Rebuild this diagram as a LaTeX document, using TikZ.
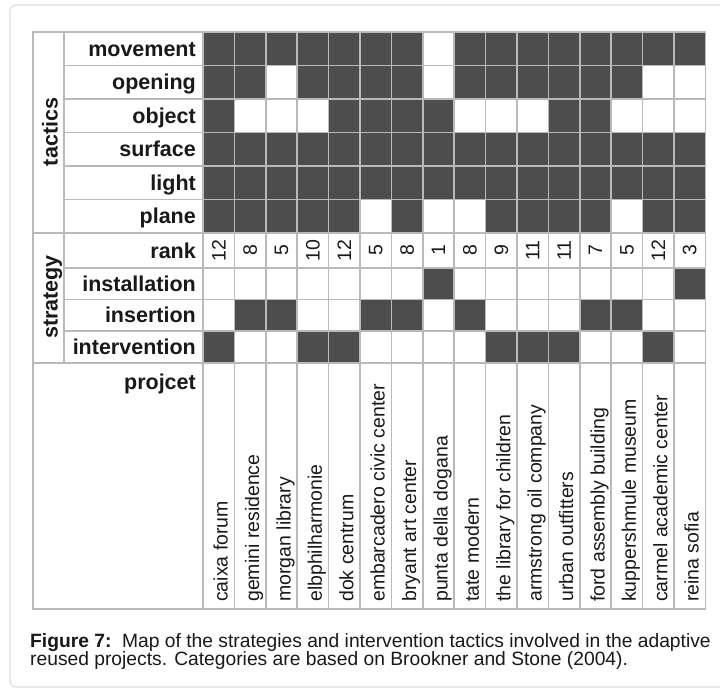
\documentclass[tikz,border=0pt]{standalone}
\usepackage{fontspec}
\setmainfont{Liberation Sans}
\definecolor{cellfill}{RGB}{77,77,77}
\definecolor{gridline}{RGB}{185,185,185}
\definecolor{inkgray}{RGB}{25,25,25}
\definecolor{framegray}{RGB}{222,222,222}
\tikzset{
  rowlabel/.style={anchor=base east, inner sep=0pt, text=inkgray,
    font=\fontsize{21.5}{24}\selectfont\bfseries},
  grouplabel/.style={rotate=90, anchor=base, inner sep=0pt, text=inkgray,
    font=\fontsize{21.5}{24}\selectfont\bfseries},
  ranknum/.style={rotate=90, inner sep=0pt, text=inkgray,
    font=\fontsize{19.5}{22}\selectfont},
  projname/.style={rotate=90, anchor=base west, inner sep=0pt, text=inkgray,
    font=\fontsize{19.5}{22}\selectfont},
  gridrule/.style={draw=gridline, line width=1.6pt},
  caption/.style={anchor=base west, inner sep=0pt, text=inkgray,
    font=\fontsize{19.25}{22}\selectfont},
}
\begin{document}
\begin{tikzpicture}[x=1pt, y=-1pt]
\useasboundingbox (0,0) rectangle (720,689);
\clip (0,0) rectangle (720,689);
\fill[white] (0,0) rectangle (720,689);
\draw[framegray, line width=1.2pt, rounded corners=6pt] (10,5) rectangle (740,687);

% filled cells and row labels
\foreach \ytop/\ybot/\lab/\cells [count=\r] in {
  32/65.5/movement/{1,1,1,1,1,1,1,0,1,1,1,1,1,1,1,1},
  65.5/99/opening/{1,1,0,1,1,1,1,0,1,1,1,1,1,1,0,0},
  99/132.5/object/{1,0,0,0,1,1,1,1,0,0,0,1,1,0,0,0},
  132.5/166/surface/{1,1,1,1,1,1,1,1,1,1,1,1,1,1,1,1},
  166/199.5/light/{1,1,1,1,1,1,1,1,1,1,1,1,1,1,1,1},
  199.5/233/plane/{1,1,1,1,1,0,1,0,0,1,1,1,1,0,1,1},
  268/299.5/installation/{0,0,0,0,0,0,0,1,0,0,0,0,0,0,0,1},
  299.5/331/insertion/{0,1,1,0,0,1,1,0,1,0,0,0,1,1,0,0},
  331/363/intervention/{1,0,0,1,1,0,0,0,0,1,1,1,0,0,1,0}}{
  \foreach \v [count=\c] in \cells {
    \ifnum\v=1
      \fill[cellfill] ({203+(\c-1)*31.4},\ytop) rectangle ({203+\c*31.4},\ybot);
    \fi
  }
  \node[rowlabel] (lab-\r) at (196,{(\ytop+\ybot)/2+7.5}) {\lab};
}

% rank row
\node[rowlabel] (lab-rank) at (196,258) {rank};
\foreach \n [count=\c] in {12,8,5,10,12,5,8,1,8,9,11,11,7,5,12,3}
  \node[ranknum] (rank-\c) at ({203+(\c-0.5)*31.4},250.5) {\n};

% projects
\node[rowlabel] (lab-proj) at (196,389) {projcet};
\foreach \p [count=\c] in {caixa forum, gemini residence, morgan library,
    elbphilharmonie, dok centrum, embarcadero civic center, bryant art center,
    punta della dogana, tate modern, the library for children,
    armstrong oil company, urban outfitters, ford assembly building,
    kuppershmule museum, carmel academic center, reina sofia}
  \node[projname] (proj-\c) at ({203+(\c-0.5)*31.4+9},602) {\p};

% group labels
\node[grouplabel] (tactics) at (57.5,132) {tactics};
\node[grouplabel] (strategy) at (57.5,297) {strategy};

% grid
\foreach \yy in {65.5,99,132.5,166,199.5,268,299.5,331}
  \draw[gridrule] (64,\yy) -- (705.4,\yy);
\foreach \yy in {233,363}
  \draw[gridrule] (33,\yy) -- (705.4,\yy);
\draw[gridrule] (64,32) -- (64,363);
\foreach \c in {0,...,15}
  \draw[gridrule] ({203+\c*31.4},32) -- ({203+\c*31.4},609);
\draw[gridrule] (33,32) rectangle (705.4,609);

% caption
\node[caption] (cap1) at (30,647) {\textbf{Figure 7:}\ \ Map of the strategies and intervention tactics involved in the adaptive};
\node[caption] (cap2) at (30,665) {reused projects. Categories are based on Brookner and Stone (2004).};
\end{tikzpicture}
\end{document}
